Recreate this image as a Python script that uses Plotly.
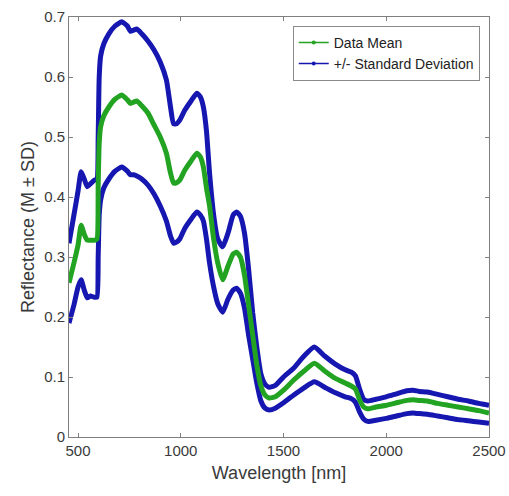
import plotly.graph_objects as go

wavelength = [456, 480, 500, 515, 530, 545, 560, 580, 592, 598, 603, 610, 625, 650, 680, 713,
              740, 755, 770, 786, 810, 840, 870, 900, 930, 950, 965, 980, 995, 1020, 1050, 1078,
              1095, 1110, 1125, 1140, 1160, 1180, 1204, 1230, 1255, 1272, 1290, 1310, 1330, 1350,
              1370, 1390, 1410, 1430, 1460, 1500, 1550, 1600, 1650, 1700, 1750, 1800, 1830, 1850,
              1870, 1890, 1910, 1950, 2000, 2050, 2100, 2130, 2160, 2200, 2250, 2300, 2350, 2400,
              2450, 2500]

upper_sd = [0.323, 0.37, 0.41, 0.442, 0.43, 0.417, 0.422, 0.428, 0.43, 0.50, 0.60, 0.635, 0.655, 0.672, 0.685, 0.692,
            0.685, 0.676, 0.678, 0.68, 0.672, 0.66, 0.645, 0.625, 0.595, 0.55, 0.522, 0.522, 0.528, 0.545, 0.56, 0.573,
            0.567, 0.55, 0.51, 0.44, 0.37, 0.33, 0.317, 0.34, 0.37, 0.375, 0.368, 0.34, 0.28, 0.207,
            0.15, 0.105, 0.088, 0.083, 0.086, 0.10, 0.115, 0.135, 0.15, 0.135, 0.122, 0.112, 0.108, 0.102,
            0.08, 0.063, 0.06, 0.063, 0.067, 0.072, 0.077, 0.078, 0.076, 0.075, 0.071, 0.067, 0.063, 0.06,
            0.056, 0.053]

data_mean = [0.257, 0.29, 0.32, 0.353, 0.338, 0.328, 0.328, 0.328, 0.33, 0.42, 0.49, 0.517, 0.535, 0.55, 0.563, 0.57,
             0.562, 0.556, 0.558, 0.56, 0.552, 0.54, 0.52, 0.50, 0.473, 0.44, 0.423, 0.424, 0.428, 0.445, 0.46, 0.473,
             0.467, 0.45, 0.415, 0.385, 0.33, 0.29, 0.262, 0.285, 0.305, 0.308, 0.30, 0.27, 0.22, 0.17,
             0.12, 0.085, 0.07, 0.065, 0.067, 0.078, 0.095, 0.11, 0.123, 0.11, 0.098, 0.09, 0.085, 0.08,
             0.062, 0.05, 0.047, 0.05, 0.053, 0.057, 0.061, 0.062, 0.061, 0.06, 0.056, 0.053, 0.05, 0.047,
             0.044, 0.04]

lower_sd = [0.19, 0.22, 0.25, 0.262, 0.245, 0.232, 0.235, 0.233, 0.233, 0.30, 0.37, 0.395, 0.415, 0.43, 0.443, 0.45,
            0.443, 0.437, 0.437, 0.435, 0.43, 0.42, 0.405, 0.385, 0.36, 0.335, 0.323, 0.325, 0.33, 0.348, 0.363, 0.375,
            0.37, 0.36, 0.33, 0.29, 0.25, 0.222, 0.208, 0.23, 0.245, 0.248, 0.24, 0.215, 0.17, 0.13,
            0.09, 0.06, 0.048, 0.045, 0.048, 0.057, 0.07, 0.082, 0.092, 0.083, 0.074, 0.067, 0.064, 0.058,
            0.042, 0.03, 0.026, 0.028, 0.031, 0.035, 0.039, 0.04, 0.039, 0.038, 0.035, 0.032, 0.029, 0.027,
            0.025, 0.023]

x_ticks = [500, 1000, 1500, 2000, 2500]
y_ticks = [0, 0.1, 0.2, 0.3, 0.4, 0.5, 0.6, 0.7]
y_tick_labels = ["0", "0.1", "0.2", "0.3", "0.4", "0.5", "0.6", "0.7"]

GREEN = "#22a322"
BLUE = "#1616b0"
FONT = "Liberation Sans, Arial, sans-serif"

fig = go.Figure()
for yv, col in [(upper_sd, BLUE), (lower_sd, BLUE), (data_mean, GREEN)]:
    fig.add_trace(go.Scatter(x=wavelength, y=yv, mode="lines",
                             line=dict(color=col, width=5, shape="spline", smoothing=0.5),
                             showlegend=False, hoverinfo="skip"))

# legend entries
fig.add_trace(go.Scatter(x=[None], y=[None], mode="lines+markers", name="Data Mean",
                         line=dict(color=GREEN, width=1.5), marker=dict(color=GREEN, size=4)))
fig.add_trace(go.Scatter(x=[None], y=[None], mode="lines+markers", name="+/- Standard Deviation",
                         line=dict(color=BLUE, width=1.5), marker=dict(color=BLUE, size=4)))

axis_common = dict(showline=True, linecolor="#7f7f7f", linewidth=1, mirror="ticks",
                   ticks="inside", ticklen=4, tickcolor="#7f7f7f", showgrid=False, zeroline=False,
                   automargin=False,
                   tickfont=dict(family=FONT, size=15, color="#3a3a3a"),
                   title_font=dict(family=FONT, size=18, color="#3a3a3a"))

fig.update_xaxes(range=[456, 2500], tickvals=x_ticks, title_text="Wavelength [nm]",
                 title_standoff=8, **axis_common)
fig.update_yaxes(range=[0, 0.7], tickvals=y_ticks, ticktext=y_tick_labels,
                 title_text="Reflectance (M \u00b1 SD)", title_standoff=4, **axis_common)

fig.update_layout(
    width=509, height=496,
    margin=dict(l=69, r=20, t=17, b=59),
    paper_bgcolor="white", plot_bgcolor="white",
    legend=dict(x=0.978, y=0.979, xanchor="right", yanchor="top",
                bordercolor="#8a8a8a", borderwidth=1, bgcolor="white",
                font=dict(family=FONT, size=14, color="#222222"),
                itemwidth=30, tracegroupgap=0),
)

fig.write_html("out.html", config={"displayModeBar": False},
               post_script="document.body.style.margin='0';document.body.style.overflow='hidden';")
